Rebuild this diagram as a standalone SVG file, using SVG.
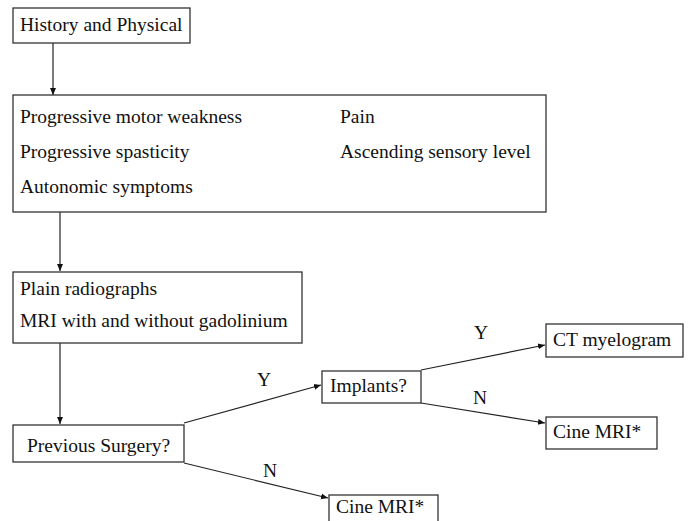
<svg xmlns="http://www.w3.org/2000/svg" width="689" height="521" viewBox="0 0 689 521">
<defs>
<marker id="ah" markerWidth="8" markerHeight="8" refX="7" refY="4" orient="auto" markerUnits="userSpaceOnUse">
<path d="M0,1 L7,4 L0,7 Z" fill="#111"/>
</marker>
<style>
.box{fill:#fff;stroke:#333;stroke-width:1.3}
.t{font-family:'Liberation Serif','DejaVu Serif',serif;font-size:19.5px;fill:#111}
.c{fill:none;stroke:#222;stroke-width:1.2;marker-end:url(#ah)}
</style>
</defs>
<rect width="689" height="521" fill="#fff"/>
<g id="connectors">
<line class="c" x1="53" y1="43" x2="53" y2="95"/>
<line class="c" x1="60" y1="212" x2="60" y2="271"/>
<line class="c" x1="60" y1="343" x2="60" y2="424"/>
<line class="c" x1="184" y1="423" x2="321" y2="385"/>
<line class="c" x1="184" y1="463" x2="328" y2="498"/>
<line class="c" x1="421" y1="370" x2="545" y2="345"/>
<line class="c" x1="421" y1="403" x2="545" y2="423"/>
<text class="t" x="257" y="386">Y</text>
<text class="t" x="263" y="477">N</text>
<text class="t" x="474" y="339">Y</text>
<text class="t" x="473" y="404">N</text>
</g>
<g id="history">
<rect class="box" x="13" y="8" width="177" height="35"/>
<text class="t" x="20" y="31">History and Physical</text>
</g>
<g id="symptoms">
<rect class="box" x="13" y="95" width="533" height="117"/>
<text class="t" x="20" y="123">Progressive motor weakness</text>
<text class="t" x="20" y="158">Progressive spasticity</text>
<text class="t" x="20" y="193">Autonomic symptoms</text>
<text class="t" x="340" y="123">Pain</text>
<text class="t" x="340" y="158">Ascending sensory level</text>
</g>
<g id="imaging">
<rect class="box" x="13" y="272" width="289" height="71"/>
<text class="t" x="20" y="295">Plain radiographs</text>
<text class="t" x="20" y="327">MRI with and without gadolinium</text>
</g>
<g id="surgery">
<rect class="box" x="13" y="425" width="171" height="37"/>
<text class="t" x="27" y="452">Previous Surgery?</text>
</g>
<g id="implants">
<rect class="box" x="322" y="371" width="99" height="32"/>
<text class="t" x="330" y="392">Implants?</text>
</g>
<g id="ct">
<rect class="box" x="546" y="324" width="137" height="33"/>
<text class="t" x="553" y="346">CT myelogram</text>
</g>
<g id="cine1">
<rect class="box" x="546" y="417" width="111" height="32"/>
<text class="t" x="553" y="438">Cine MRI*</text>
</g>
<g id="cine2">
<rect class="box" x="329" y="495" width="109" height="30"/>
<text class="t" x="336" y="513">Cine MRI*</text>
</g>
</svg>
